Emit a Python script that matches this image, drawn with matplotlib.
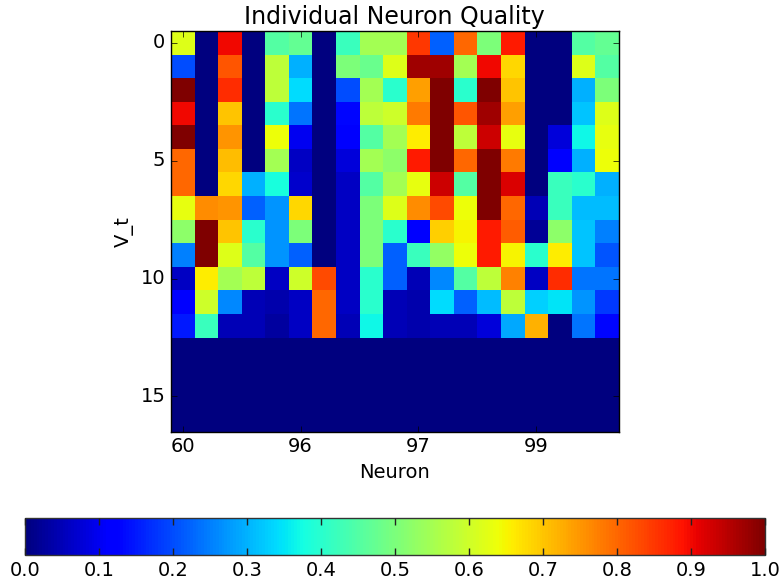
import numpy as np
import matplotlib
matplotlib.use("Agg")
import matplotlib.pyplot as plt

plt.style.use("classic")
plt.rcParams["font.size"] = 14

# neuron quality per (V_t row, neuron column), rows 13-16 are empty
row00 = [0.62, 0.00, 0.90, 0.00, 0.45, 0.47, 0.00, 0.42, 0.55, 0.55, 0.85, 0.22, 0.80, 0.50, 0.88, 0.00, 0.00, 0.45, 0.47]
row01 = [0.20, 0.00, 0.82, 0.00, 0.58, 0.30, 0.00, 0.50, 0.48, 0.62, 0.97, 0.97, 0.55, 0.90, 0.68, 0.00, 0.00, 0.62, 0.45]
row02 = [1.00, 0.00, 0.86, 0.00, 0.58, 0.34, 0.00, 0.20, 0.55, 0.40, 0.74, 1.00, 0.40, 1.00, 0.70, 0.00, 0.00, 0.30, 0.50]
row03 = [0.90, 0.00, 0.70, 0.00, 0.40, 0.24, 0.00, 0.13, 0.58, 0.60, 0.78, 1.00, 0.82, 0.97, 0.74, 0.00, 0.00, 0.32, 0.62]
row04 = [1.00, 0.00, 0.75, 0.00, 0.64, 0.10, 0.00, 0.11, 0.45, 0.55, 0.66, 1.00, 0.58, 0.93, 0.63, 0.00, 0.08, 0.37, 0.63]
row05 = [0.80, 0.00, 0.71, 0.00, 0.55, 0.06, 0.00, 0.08, 0.55, 0.52, 0.88, 1.00, 0.80, 1.00, 0.78, 0.00, 0.12, 0.30, 0.64]
row06 = [0.80, 0.00, 0.68, 0.30, 0.38, 0.07, 0.00, 0.06, 0.45, 0.55, 0.63, 0.93, 0.45, 1.00, 0.92, 0.00, 0.42, 0.40, 0.30]
row07 = [0.63, 0.76, 0.75, 0.22, 0.27, 0.68, 0.00, 0.06, 0.50, 0.62, 0.76, 0.83, 0.64, 1.00, 0.80, 0.05, 0.42, 0.31, 0.31]
row08 = [0.52, 1.00, 0.70, 0.40, 0.27, 0.50, 0.00, 0.06, 0.50, 0.40, 0.12, 0.69, 0.65, 0.88, 0.81, 0.02, 0.52, 0.32, 0.25]
row09 = [0.25, 1.00, 0.62, 0.45, 0.27, 0.22, 0.00, 0.06, 0.50, 0.22, 0.42, 0.53, 0.64, 0.88, 0.65, 0.40, 0.66, 0.32, 0.21]
row10 = [0.06, 0.66, 0.55, 0.58, 0.06, 0.60, 0.83, 0.06, 0.40, 0.22, 0.05, 0.26, 0.45, 0.58, 0.77, 0.06, 0.86, 0.24, 0.24]
row11 = [0.12, 0.60, 0.26, 0.05, 0.04, 0.06, 0.80, 0.06, 0.40, 0.05, 0.04, 0.34, 0.22, 0.31, 0.58, 0.33, 0.35, 0.27, 0.18]
row12 = [0.15, 0.42, 0.05, 0.05, 0.03, 0.06, 0.80, 0.05, 0.37, 0.05, 0.04, 0.05, 0.05, 0.08, 0.29, 0.72, 0.00, 0.24, 0.13]
empty_row = [0.0] * 19

neuron_ticks = [0, 5, 10, 15]
neuron_labels = ["60", "96", "97", "99"]
vt_ticks = [0, 5, 10, 15]

quality = np.array([row00, row01, row02, row03, row04, row05, row06, row07,
                    row08, row09, row10, row11, row12,
                    empty_row, empty_row, empty_row, empty_row])

fig = plt.figure(figsize=(7.82, 5.82), dpi=100, facecolor="white")
ax = fig.add_axes([0.2183, 0.2582, 0.5733, 0.6885])
im = ax.imshow(quality, cmap="jet", vmin=0, vmax=1, interpolation="nearest", aspect="equal")
ax.set_xticks(neuron_ticks)
ax.set_xticklabels(neuron_labels)
ax.set_yticks(vt_ticks)
ax.set_title("Individual Neuron Quality", fontsize=17)
ax.set_xlabel("Neuron")
ax.set_ylabel("V_t")

cax = fig.add_axes([0.032, 0.0464, 0.9463, 0.064])
cb = fig.colorbar(im, cax=cax, orientation="horizontal")
cb.set_ticks(np.arange(0, 1.01, 0.1))
cb.ax.tick_params(direction="in", top=True, bottom=True, length=5, width=1, color="#222222")
cb.outline.set_edgecolor("#333333")

fig.savefig("out.png", dpi=100, facecolor="white")
